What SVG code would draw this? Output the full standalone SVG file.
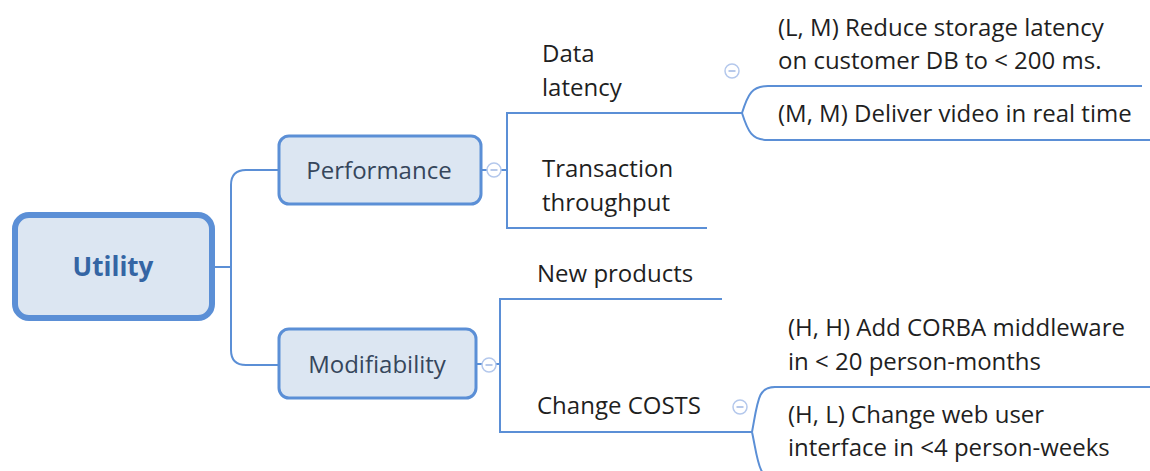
<svg xmlns="http://www.w3.org/2000/svg" width="1150" height="471" viewBox="0 0 1150 471">
<style>
.line{fill:none;stroke:#5b8fd6;stroke-width:2}
.t{font-family:"Open Sans","Liberation Sans",sans-serif;font-size:24px;fill:#1f1f1f}
.bt{font-family:"Open Sans","Liberation Sans",sans-serif;font-size:24px;fill:#36465c;text-anchor:middle}
.box{fill:#dce6f2;stroke:#5b8fd6;stroke-width:3}
.col circle{fill:#fff;stroke:#b4c8ec;stroke-width:1.5}
.col line{stroke:#9fb7e3;stroke-width:1.5}
</style>
<defs>
<g id="minus" class="col"><circle cx="0" cy="0" r="7"/><line x1="-3.5" y1="0" x2="3.5" y2="0"/></g>
</defs>
<g id="connectors">
<path class="line" d="M215,267 H231 M278,170 H246 Q231,170 231,185 V350 Q231,365 246,365 H278"/>
<path class="line" d="M482,170 H507 M742,113 H507 V228 H707"/>
<path class="line" d="M742,113 C748,94 752,86 768,86 H1142 M742,113 C748,132 752,140 768,140 H1150"/>
<path class="line" d="M476,364 H500 M722,299 H500 V432 H752"/>
<path class="line" d="M752,432 C758,400 758,387 775,387 H1150 M752,432 C758,460 758,478 775,480 H1150"/>
</g>
<g id="utility">
<rect class="box" x="15" y="215" width="197" height="103" rx="14" style="stroke-width:6"/>
<text x="113" y="276" style="font-family:'Open Sans','Liberation Sans',sans-serif;font-size:26px;font-weight:bold;fill:#3465a4;text-anchor:middle">Utility</text>
</g>
<g id="performance">
<rect class="box" x="279" y="136" width="202" height="68" rx="10"/>
<text class="bt" x="379" y="179">Performance</text>
<use href="#minus" x="494" y="170"/>
</g>
<g id="modifiability">
<rect class="box" x="279" y="329" width="197" height="69" rx="10"/>
<text class="bt" x="377" y="373">Modifiability</text>
<use href="#minus" x="489" y="365"/>
</g>
<g id="data-latency">
<text class="t" x="542" y="62">Data</text>
<text class="t" x="542" y="96">latency</text>
<use href="#minus" x="732" y="71"/>
</g>
<g id="transaction-throughput">
<text class="t" x="542" y="177">Transaction</text>
<text class="t" x="542" y="211">throughput</text>
</g>
<g id="lm-latency">
<text class="t" x="778" y="36">(L, M) Reduce storage latency</text>
<text class="t" x="778" y="69">on customer DB to &lt; 200 ms.</text>
</g>
<g id="mm-video">
<text class="t" x="778" y="122">(M, M) Deliver video in real time</text>
</g>
<g id="new-products">
<text class="t" x="537" y="282">New products</text>
</g>
<g id="change-costs">
<text class="t" x="537" y="414">Change COSTS</text>
<use href="#minus" x="740" y="407"/>
</g>
<g id="hh-corba">
<text class="t" x="788" y="336">(H, H) Add CORBA middleware</text>
<text class="t" x="788" y="370">in &lt; 20 person-months</text>
</g>
<g id="hl-web">
<text class="t" x="788" y="423">(H, L) Change web user</text>
<text class="t" x="788" y="456">interface in &lt;4 person-weeks</text>
</g>
</svg>
